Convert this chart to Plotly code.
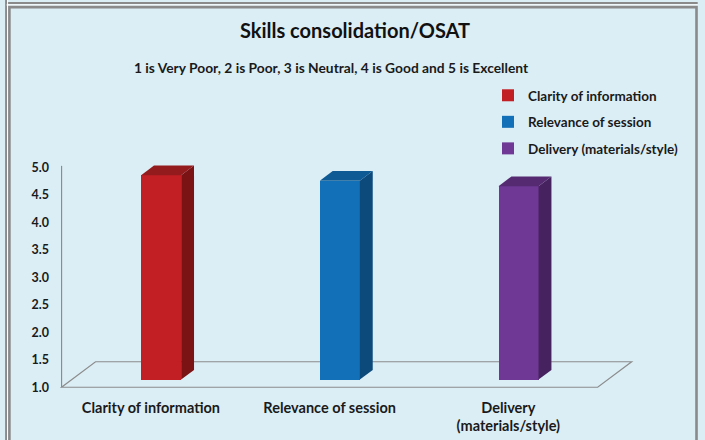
import plotly.graph_objects as go

# ---- data ----
categories = ["Clarity of information", "Relevance of session", "Delivery (materials/style)"]
tick_labels = ["Clarity of information", "Relevance of session", "Delivery<br>(materials/style)"]
scores = [4.72, 4.62, 4.52]
y_ticks = [1.0, 1.5, 2.0, 2.5, 3.0, 3.5, 4.0, 4.5, 5.0]

front_colors = ["#C21F25", "#1170B8", "#6E3894"]
side_colors = ["#7B1214", "#0C4A7C", "#46225F"]
top_colors = ["#931A1D", "#0E5A94", "#562A70"]

# ---- geometry of the pseudo-3D view (style constants) ----
W, H = 705, 440
BASE = 1.0
DEPTH_DX, DEPTH_DY = 0.19, 0.464      # full floor depth offset in data units
BAR_W = 0.224
FRONT_FRAC, BACK_FRAC = 0.30, 0.68     # bar depth position within floor depth

x_range = [-0.52, 2.72]
y_range = [0.95, 5.1]
ml, mr, mt, mb = 58.4, 67.7, 161.9, 50.3
pw, ph = W - ml - mr, H - mt - mb

def px_x(p):
    return (p - ml) / pw

def px_y(p):
    return (H - mb - p) / ph

fig = go.Figure()

n = len(categories)
fdx, fdy = FRONT_FRAC * DEPTH_DX, FRONT_FRAC * DEPTH_DY
bdx, bdy = (BACK_FRAC - FRONT_FRAC) * DEPTH_DX, (BACK_FRAC - FRONT_FRAC) * DEPTH_DY

for i, (cat, v) in enumerate(zip(categories, scores)):
    xc = i + fdx
    base = BASE + fdy
    top = v + fdy
    xl, xr = xc - BAR_W / 2, xc + BAR_W / 2
    # front face
    fig.add_trace(go.Bar(
        x=[xc], y=[v - BASE], base=[base], width=[BAR_W],
        marker=dict(color=front_colors[i], line=dict(width=0)),
        name=f"<b>{cat}</b>", legendgroup=cat, showlegend=True,
    ))
    # side face
    fig.add_trace(go.Scatter(
        x=[xr, xr, xr + bdx, xr + bdx, xr],
        y=[base, top, top + bdy, base + bdy, base],
        fill="toself", fillcolor=side_colors[i], mode="lines",
        line=dict(width=0, color=side_colors[i]),
        showlegend=False, hoverinfo="skip", legendgroup=cat,
    ))
    # top face
    fig.add_trace(go.Scatter(
        x=[xl, xr, xr + bdx, xl + bdx, xl],
        y=[top, top, top + bdy, top + bdy, top],
        fill="toself", fillcolor=top_colors[i], mode="lines",
        line=dict(width=0, color=top_colors[i]),
        showlegend=False, hoverinfo="skip", legendgroup=cat,
    ))

grey = "#8C8C8C"
x0, x1 = -0.5, n - 0.5
shapes = [
    # floor
    dict(type="path", xref="x", yref="y", layer="below",
         path=f"M{x0},{BASE} L{x1},{BASE} L{x1 + DEPTH_DX},{BASE + DEPTH_DY} "
              f"L{x0 + DEPTH_DX},{BASE + DEPTH_DY} Z",
         line=dict(color=grey, width=1.2)),
    # vertical axis line
    dict(type="line", xref="x", yref="y", layer="below",
         x0=x0, x1=x0, y0=BASE, y1=y_ticks[-1] + 0.03,
         line=dict(color=grey, width=1.2)),
    # frame decorations (screenshot borders)
    dict(type="line", xref="paper", yref="paper", x0=px_x(6.5), x1=px_x(6.5),
         y0=px_y(-5), y1=px_y(445), line=dict(color="#8A8A8A", width=2)),
    dict(type="line", xref="paper", yref="paper", x0=px_x(7), x1=px_x(698),
         y0=px_y(3), y1=px_y(3), line=dict(color="#8A8A8A", width=2)),
    dict(type="line", xref="paper", yref="paper", x0=px_x(8), x1=px_x(8),
         y0=px_y(-5), y1=px_y(445), line=dict(color="white", width=1)),
    dict(type="line", xref="paper", yref="paper", x0=px_x(7), x1=px_x(698),
         y0=px_y(5), y1=px_y(5), line=dict(color="white", width=1)),
    dict(type="rect", xref="paper", yref="paper", x0=px_x(9.8), x1=px_x(696.8),
         y0=px_y(460), y1=px_y(7.2), line=dict(color="#8A8A8A", width=2.6)),
]

fig.update_layout(
    width=W, height=H,
    paper_bgcolor="#DBEEF6", plot_bgcolor="rgba(0,0,0,0)",
    margin=dict(l=ml, r=mr, t=mt, b=mb, autoexpand=False),
    font=dict(family="Lato", color="#1A1A1A"),
    title=dict(text="<b>Skills consolidation/OSAT</b>", x=355 / W, y=1 - 31 / H,
               xanchor="center", yanchor="middle",
               font=dict(size=20, family="Lato", color="#111111")),
    xaxis=dict(range=x_range, showgrid=False, zeroline=False, showline=False,
               tickmode="array", tickvals=list(range(n)),
               ticktext=[f"<b>{t}</b>" for t in tick_labels],
               tickfont=dict(size=14.5, family="Lato", color="#1A1A1A"),
               ticks="", ticklabelstandoff=7, fixedrange=True),
    yaxis=dict(range=y_range, showgrid=False, zeroline=False, showline=False,
               tickmode="array", tickvals=y_ticks,
               ticktext=[f"<b>{t:.1f}</b>" for t in y_ticks],
               tickfont=dict(size=12.5, family="Lato", color="#1A1A1A"),
               ticks="", ticklabelstandoff=8, fixedrange=True),
    legend=dict(xref="container", yref="container", x=488 / W, y=1 - 80 / H,
                xanchor="left", yanchor="top", bgcolor="rgba(0,0,0,0)",
                font=dict(size=13.5, family="Lato", color="#1A1A1A"),
                traceorder="grouped", tracegroupgap=6, itemwidth=30),
    bargap=0, showlegend=True,
    shapes=shapes,
    annotations=[dict(text="<b>1 is Very Poor, 2 is Poor, 3 is Neutral, 4 is Good and 5 is Excellent</b>",
                      xref="paper", yref="paper", x=px_x(332), y=px_y(67),
                      xanchor="center", yanchor="middle", showarrow=False,
                      font=dict(size=13.8, family="Lato", color="#1A1A1A"))],
)

fig.write_html("out.html", config={"displayModeBar": False},
               post_script="document.body.style.margin='0';")
